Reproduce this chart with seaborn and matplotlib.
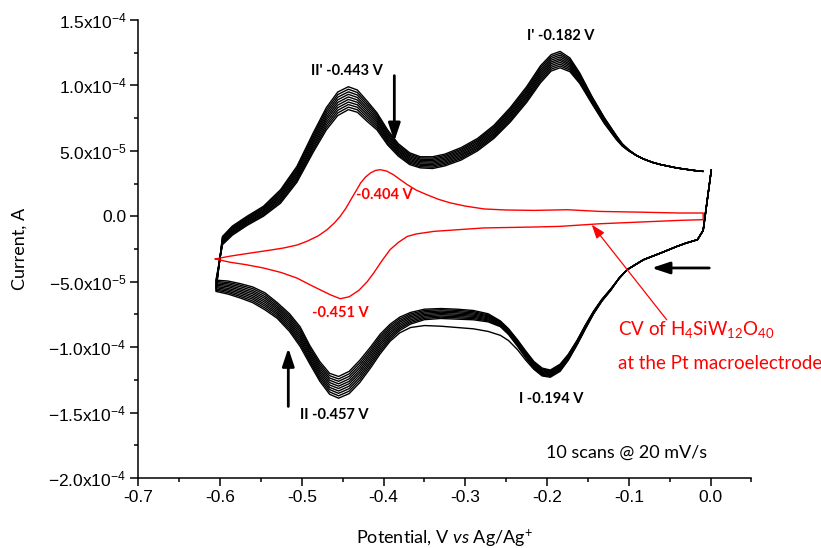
import matplotlib
matplotlib.use("Agg")
import matplotlib.pyplot as plt
import pandas as pd
import seaborn as sns

# ---------------- data (current in units of 1e-5 A, potential in V) ----------------
# black: 10 consecutive scans; lower (cathodic) branch 0 V -> -0.6 V, then upper (anodic) branch back
DN_HEAD_X = [0.001, -0.009, -0.016, -0.030, -0.041, -0.061, -0.082, -0.102, -0.112]
DN_HEAD = [3.56, -1.08, -1.79, -2.05, -2.30, -2.81, -3.32, -4.08, -4.75]

DN_X = [-0.122, -0.133, -0.143, -0.153, -0.163, -0.174, -0.184, -0.196, -0.206, -0.216,
        -0.226, -0.236, -0.247, -0.257, -0.272, -0.290, -0.310, -0.330, -0.350, -0.367,
        -0.380, -0.392, -0.404, -0.416, -0.429, -0.442, -0.455, -0.466, -0.478, -0.490,
        -0.502, -0.515, -0.530, -0.545, -0.560, -0.575, -0.590, -0.605]
DN_1 = [-5.65, -6.50, -7.45, -8.60, -9.80, -11.00, -11.85, -12.30, -12.20, -11.70, -11.00, -10.20, -9.50, -9.10, -8.80, -8.60, -8.50, -8.40, -8.35, -8.50, -8.90, -9.55, -10.50, -11.60, -12.70, -13.55, -13.90, -13.60, -12.60, -11.30, -9.95, -8.80, -7.80, -7.15, -6.60, -6.25, -5.95, -5.74]
DN_2 = [-5.64, -6.48, -7.43, -8.57, -9.76, -10.95, -11.79, -12.24, -12.13, -11.63, -10.83, -9.94, -9.04, -8.44, -8.07, -7.91, -7.86, -7.81, -7.90, -8.24, -8.72, -9.41, -10.33, -11.42, -12.51, -13.36, -13.72, -13.42, -12.43, -11.14, -9.78, -8.65, -7.67, -7.01, -6.47, -6.13, -5.84, -5.64]
DN_3 = [-5.63, -6.47, -7.41, -8.53, -9.72, -10.90, -11.73, -12.18, -12.07, -11.57, -10.77, -9.88, -8.99, -8.39, -7.99, -7.82, -7.76, -7.71, -7.80, -8.13, -8.59, -9.26, -10.17, -11.24, -12.32, -13.17, -13.53, -13.24, -12.27, -10.99, -9.62, -8.50, -7.53, -6.86, -6.33, -6.01, -5.73, -5.55]
DN_4 = [-5.62, -6.45, -7.38, -8.50, -9.68, -10.85, -11.67, -12.12, -12.00, -11.50, -10.70, -9.82, -8.93, -8.33, -7.92, -7.73, -7.67, -7.62, -7.70, -8.02, -8.47, -9.12, -10.00, -11.07, -12.13, -12.98, -13.35, -13.07, -12.10, -10.83, -9.45, -8.35, -7.40, -6.72, -6.20, -5.88, -5.62, -5.45]
DN_5 = [-5.61, -6.43, -7.36, -8.47, -9.64, -10.80, -11.61, -12.06, -11.93, -11.43, -10.63, -9.76, -8.88, -8.28, -7.84, -7.64, -7.57, -7.52, -7.60, -7.91, -8.34, -8.97, -9.83, -10.89, -11.94, -12.79, -13.16, -12.89, -11.93, -10.68, -9.28, -8.20, -7.27, -6.57, -6.07, -5.76, -5.51, -5.36]
DN_6 = [-5.59, -6.42, -7.34, -8.43, -9.61, -10.75, -11.54, -11.99, -11.87, -11.37, -10.57, -9.69, -8.82, -8.22, -7.76, -7.56, -7.48, -7.43, -7.50, -7.79, -8.21, -8.83, -9.67, -10.71, -11.76, -12.61, -12.98, -12.71, -11.77, -10.52, -9.12, -8.05, -7.13, -6.43, -5.93, -5.64, -5.39, -5.26]
DN_7 = [-5.58, -6.40, -7.32, -8.40, -9.57, -10.70, -11.48, -11.93, -11.80, -11.30, -10.50, -9.63, -8.77, -8.17, -7.68, -7.47, -7.38, -7.33, -7.40, -7.68, -8.08, -8.68, -9.50, -10.53, -11.57, -12.42, -12.80, -12.53, -11.60, -10.37, -8.95, -7.90, -7.00, -6.28, -5.80, -5.52, -5.28, -5.17]
DN_8 = [-5.57, -6.38, -7.29, -8.37, -9.53, -10.65, -11.42, -11.87, -11.73, -11.23, -10.43, -9.57, -8.71, -8.11, -7.61, -7.38, -7.29, -7.24, -7.30, -7.57, -7.96, -8.54, -9.33, -10.36, -11.38, -12.23, -12.61, -12.36, -11.43, -10.21, -8.78, -7.75, -6.87, -6.14, -5.67, -5.39, -5.17, -5.07]
DN_9 = [-5.56, -6.37, -7.27, -8.33, -9.49, -10.60, -11.36, -11.81, -11.67, -11.17, -10.37, -9.51, -8.66, -8.06, -7.53, -7.29, -7.19, -7.14, -7.20, -7.46, -7.83, -8.39, -9.17, -10.18, -11.19, -12.04, -12.43, -12.18, -11.27, -10.06, -8.62, -7.60, -6.73, -5.99, -5.53, -5.27, -5.06, -4.98]
DN_10 = [-5.55, -6.35, -7.25, -8.30, -9.45, -10.55, -11.30, -11.75, -11.60, -11.10, -10.30, -9.45, -8.60, -8.00, -7.45, -7.20, -7.10, -7.05, -7.10, -7.35, -7.70, -8.25, -9.00, -10.00, -11.00, -11.85, -12.24, -12.00, -11.10, -9.90, -8.45, -7.45, -6.60, -5.85, -5.40, -5.15, -4.95, -4.88]

UP_X = [-0.597, -0.585, -0.567, -0.547, -0.526, -0.506, -0.486, -0.470, -0.456, -0.443,
        -0.432, -0.420, -0.408, -0.395, -0.382, -0.368, -0.355, -0.340, -0.325, -0.305,
        -0.285, -0.265, -0.245, -0.225, -0.208, -0.195, -0.184, -0.172, -0.160, -0.145,
        -0.130, -0.115, -0.108, -0.100]
UP_1 = [-1.54, -0.75, 0.00, 0.76, 2.03, 3.81, 6.37, 8.30, 9.50, 9.90, 9.65, 8.80, 7.90, 6.60, 5.55, 4.85, 4.55, 4.55, 4.75, 5.25, 5.95, 6.95, 8.30, 9.90, 11.50, 12.35, 12.60, 12.10, 10.95, 9.15, 7.55, 6.15, 5.55, 5.08]
UP_2 = [-1.61, -0.83, -0.08, 0.68, 1.92, 3.68, 6.21, 8.11, 9.30, 9.71, 9.46, 8.63, 7.76, 6.47, 5.44, 4.75, 4.46, 4.45, 4.65, 5.14, 5.84, 6.84, 8.18, 9.77, 11.36, 12.21, 12.46, 11.98, 10.86, 9.09, 7.50, 6.12, 5.53, 5.07]
UP_3 = [-1.68, -0.91, -0.16, 0.59, 1.80, 3.54, 6.04, 7.92, 9.10, 9.51, 9.27, 8.46, 7.61, 6.34, 5.34, 4.65, 4.36, 4.35, 4.55, 5.04, 5.74, 6.73, 8.06, 9.63, 11.21, 12.07, 12.32, 11.87, 10.77, 9.03, 7.45, 6.08, 5.51, 5.06]
UP_4 = [-1.75, -0.98, -0.23, 0.51, 1.69, 3.41, 5.88, 7.73, 8.90, 9.32, 9.08, 8.28, 7.47, 6.22, 5.23, 4.55, 4.27, 4.25, 4.45, 4.93, 5.63, 6.62, 7.93, 9.50, 11.07, 11.93, 12.18, 11.75, 10.68, 8.97, 7.40, 6.05, 5.49, 5.05]
UP_5 = [-1.82, -1.06, -0.31, 0.42, 1.57, 3.27, 5.72, 7.54, 8.70, 9.12, 8.89, 8.11, 7.32, 6.09, 5.13, 4.45, 4.17, 4.15, 4.35, 4.83, 5.53, 6.51, 7.81, 9.37, 10.92, 11.79, 12.04, 11.63, 10.59, 8.91, 7.35, 6.02, 5.47, 5.04]
UP_6 = [-1.89, -1.14, -0.39, 0.34, 1.46, 3.14, 5.55, 7.36, 8.50, 8.93, 8.71, 7.94, 7.18, 5.96, 5.02, 4.35, 4.08, 4.05, 4.25, 4.72, 5.42, 6.39, 7.69, 9.23, 10.78, 11.66, 11.91, 11.52, 10.51, 8.84, 7.30, 5.98, 5.45, 5.03]
UP_7 = [-1.96, -1.22, -0.47, 0.25, 1.34, 3.00, 5.39, 7.17, 8.30, 8.73, 8.52, 7.77, 7.03, 5.83, 4.92, 4.25, 3.98, 3.95, 4.15, 4.62, 5.32, 6.28, 7.57, 9.10, 10.63, 11.52, 11.77, 11.40, 10.42, 8.78, 7.25, 5.95, 5.43, 5.02]
UP_8 = [-2.03, -1.29, -0.54, 0.17, 1.23, 2.87, 5.23, 6.98, 8.10, 8.54, 8.33, 7.59, 6.89, 5.71, 4.81, 4.15, 3.89, 3.85, 4.05, 4.51, 5.21, 6.17, 7.44, 8.97, 10.49, 11.38, 11.63, 11.28, 10.33, 8.72, 7.20, 5.92, 5.41, 5.01]
UP_9 = [-2.10, -1.37, -0.62, 0.08, 1.11, 2.73, 5.06, 6.79, 7.90, 8.34, 8.14, 7.42, 6.74, 5.58, 4.71, 4.05, 3.79, 3.75, 3.95, 4.41, 5.11, 6.06, 7.32, 8.83, 10.34, 11.24, 11.49, 11.17, 10.24, 8.66, 7.15, 5.88, 5.39, 5.00]
UP_10 = [-2.17, -1.45, -0.70, 0.00, 1.00, 2.60, 4.90, 6.60, 7.70, 8.15, 7.95, 7.25, 6.60, 5.45, 4.60, 3.95, 3.70, 3.65, 3.85, 4.30, 5.00, 5.95, 7.20, 8.70, 10.20, 11.10, 11.35, 11.05, 10.15, 8.60, 7.10, 5.85, 5.37, 4.99]

UP_TAIL_X = [-0.091, -0.082, -0.071, -0.061, -0.041, -0.020, -0.009]
UP_TAIL = [4.66, 4.38, 4.12, 3.95, 3.69, 3.50, 3.43]

# red: CV of H4SiW12O40 at the Pt macroelectrode
RED_UP_X = [-0.606, -0.588, -0.563, -0.540, -0.522, -0.506, -0.494, -0.480, -0.469, -0.460,
            -0.453, -0.446, -0.440, -0.434, -0.428, -0.422, -0.416, -0.410, -0.404, -0.396,
            -0.388, -0.380, -0.371, -0.360, -0.347, -0.333, -0.318, -0.300, -0.277, -0.250,
            -0.216, -0.175, -0.135, -0.090, -0.037, -0.009]
RED_UP = [-3.26, -3.05, -2.81, -2.60, -2.42, -2.20, -1.92, -1.50, -1.02, -0.50,
          0.00, 0.62, 1.27, 1.90, 2.55, 3.00, 3.31, 3.50, 3.56, 3.45,
          3.18, 2.82, 2.42, 2.00, 1.65, 1.30, 1.02, 0.78, 0.56, 0.48,
          0.45, 0.50, 0.37, 0.32, 0.25, 0.25]
RED_DN_X = [-0.009, -0.037, -0.090, -0.135, -0.184, -0.216, -0.277, -0.338, -0.360, -0.371,
            -0.382, -0.392, -0.402, -0.412, -0.420, -0.430, -0.442, -0.453, -0.465, -0.486,
            -0.506, -0.525, -0.547, -0.568, -0.588, -0.606]
RED_DN = [-0.26, -0.31, -0.45, -0.57, -0.77, -0.82, -0.89, -1.15, -1.35, -1.54,
          -2.00, -2.55, -3.40, -4.33, -5.00, -5.65, -6.15, -6.30, -6.00, -5.36,
          -4.72, -4.30, -3.95, -3.70, -3.51, -3.26]

X_TICKS = [-0.7, -0.6, -0.5, -0.4, -0.3, -0.2, -0.1, 0.0]
X_TICK_LABELS = ["-0.7", "-0.6", "-0.5", "-0.4", "-0.3", "-0.2", "-0.1", "0.0"]
Y_TICKS = [-2.0e-4, -1.5e-4, -1.0e-4, -5.0e-5, 0.0, 5.0e-5, 1.0e-4, 1.5e-4]
Y_MANT = ["-2.0", "-1.5", "-1.0", "-5.0", "0.0", "5.0", "1.0", "1.5"]
Y_EXP = ["-4", "-4", "-4", "-5", "", "-5", "-4", "-4"]

SCALE = 1e-5
DN_SCANS = [DN_1, DN_2, DN_3, DN_4, DN_5, DN_6, DN_7, DN_8, DN_9, DN_10]
UP_SCANS = [UP_1, UP_2, UP_3, UP_4, UP_5, UP_6, UP_7, UP_8, UP_9, UP_10]

# ---------------- build tidy frames ----------------
rows = []
for k, (dn, up) in enumerate(zip(DN_SCANS, UP_SCANS)):
    xs = DN_HEAD_X + DN_X + UP_X + UP_TAIL_X
    ys = DN_HEAD + dn + up + UP_TAIL
    for i, (x, y) in enumerate(zip(xs, ys)):
        rows.append({"scan": k + 1, "order": i, "potential": x, "current": y * SCALE})
black = pd.DataFrame(rows)

red = pd.DataFrame({
    "potential": RED_UP_X + RED_DN_X,
    "current": [v * SCALE for v in RED_UP + RED_DN],
})

# ---------------- style ----------------
sns.set_theme(style="ticks")
plt.rcParams["font.family"] = ["Liberation Sans", "DejaVu Sans"]
plt.rcParams["mathtext.fontset"] = "custom"
plt.rcParams["mathtext.rm"] = "Lato"
plt.rcParams["mathtext.it"] = "Lato:italic"
plt.rcParams["mathtext.bf"] = "Lato:bold"

fig = plt.figure(figsize=(8.21, 5.48), dpi=100)
ax = fig.add_axes([138.3 / 821, 1 - 478 / 548, (751.4 - 138.3) / 821, (478 - 20) / 548])

sns.lineplot(data=black, x="potential", y="current", units="scan", estimator=None,
             sort=False, color="black", lw=1.0, ax=ax, legend=False)
sns.lineplot(data=red, x="potential", y="current", estimator=None, sort=False,
             color="#ff0000", lw=1.0, ax=ax, legend=False)

ax.set_xlim(-0.7, 0.05)
ax.set_ylim(-2.0e-4, 1.5e-4)
ax.set_xticks(X_TICKS)
ax.set_xticklabels(X_TICK_LABELS)
ax.set_xticks([v + 0.05 for v in X_TICKS], minor=True)
ax.set_yticks(Y_TICKS)
ax.set_yticklabels([m if e == "" else r"$\mathdefault{%sx10^{%s}}$" % (m, e)
                    for m, e in zip(Y_MANT, Y_EXP)])
ax.set_yticks([v + 2.5e-5 for v in Y_TICKS[:-1]], minor=True)

for s in ("top", "right"):
    ax.spines[s].set_visible(False)
for s in ("left", "bottom"):
    ax.spines[s].set_linewidth(1.1)
    ax.spines[s].set_color("black")
ax.tick_params(which="major", direction="out", length=5.5, width=1.1, color="black",
               labelsize=12.5, labelcolor="black", pad=3)
ax.tick_params(which="minor", direction="out", length=3, width=1.1, color="black")

ax.set_xlabel(r"Potential, V $\mathit{vs}$ Ag/Ag$^{\mathdefault{+}}$", fontsize=13,
              family="Lato", color="black")
ax.set_ylabel("Current, A", fontsize=13, family="Lato", color="black")
ax.xaxis.set_label_coords(0.5, -0.108)
ax.yaxis.set_label_coords(-0.18, 0.5)

# ---------------- annotations ----------------
bold = dict(family="Lato", weight="bold", fontsize=10.5, ha="center", va="center", color="black")
ax.text(-0.183, 13.75e-5, "I' -0.182 V", **bold)
ax.text(-0.4447, 11.08e-5, "II' -0.443 V", **bold)
ax.text(-0.4606, -15.17e-5, "II -0.457 V", **bold)
ax.text(-0.1951, -13.97e-5, "I -0.194 V", **bold)
redbold = dict(bold, color="#ff0000")
ax.text(-0.3994, 1.65e-5, "-0.404 V", **redbold)
ax.text(-0.4533, -7.39e-5, "-0.451 V", **redbold)

ax.text(-0.1132, -8.67e-5,
        r"CV of H$_{\mathdefault{4}}$SiW$_{\mathdefault{12}}$O$_{\mathdefault{40}}$",
        family="Lato", fontsize=13.5, color="#ff0000", ha="left", va="center")
ax.text(-0.1132, -11.22e-5, "at the Pt macroelectrode",
        family="Lato", fontsize=13.5, color="#ff0000", ha="left", va="center")
ax.text(-0.1022, -18.07e-5, "10 scans @ 20 mV/s",
        family="Lato", fontsize=13, color="black", ha="center", va="center")

black_arrow = dict(arrowstyle="-|>,head_length=0.9,head_width=0.3", lw=2.0, color="black",
                   shrinkA=0, shrinkB=0)
ax.annotate("", xy=(-0.3868, 5.73e-5), xytext=(-0.3868, 10.75e-5), arrowprops=black_arrow)
ax.annotate("", xy=(-0.5165, -10.07e-5), xytext=(-0.5165, -14.53e-5), arrowprops=black_arrow)
ax.annotate("", xy=(-0.072, -3.95e-5), xytext=(-0.0015, -3.95e-5), arrowprops=black_arrow)
ax.annotate("", xy=(-0.1453, -0.64e-5), xytext=(-0.0536, -7.91e-5),
            arrowprops=dict(arrowstyle="-|>,head_length=0.7,head_width=0.25", lw=0.9,
                            color="#ff0000", shrinkA=0, shrinkB=0))

fig.savefig("out.png", dpi=100)
